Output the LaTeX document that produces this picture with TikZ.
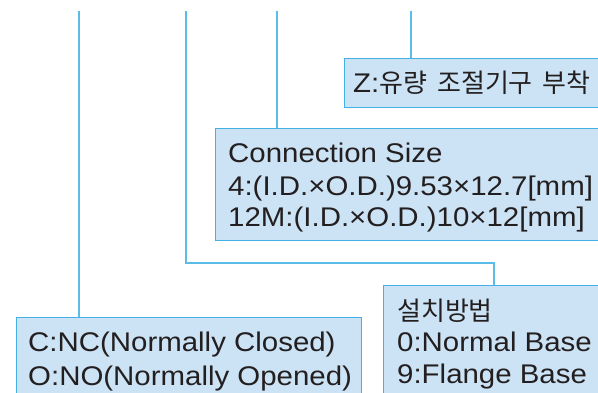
\documentclass[tikz,border=0pt]{standalone}
\usepackage{fontspec}
\setmainfont{Liberation Sans}
\newfontfamily\optfont{Liberation Sans}[FakeStretch=1.09]
\newfontfamily\hanfont{Noto Sans CJK KR}
\newcommand\hantext[1]{{\hanfont\fontsize{26}{32}\selectfont #1}}
\newcommand\hangap{\hspace{10pt}}
\definecolor{boxfill}{HTML}{CCE3F5}
\definecolor{boxline}{HTML}{45B0E5}
\definecolor{feedline}{HTML}{5BBCE8}
\definecolor{inkgray}{HTML}{231F20}
\tikzset{
  optbox/.style={draw=boxline, fill=boxfill, line width=1.3pt, anchor=north west, inner sep=0pt},
  feed/.style={draw=feedline, line width=1.3pt},
  opttext/.style={anchor=base west, inner sep=0pt, text=inkgray, font=\optfont\fontsize{27}{32}\selectfont}
}
\begin{document}
\begin{tikzpicture}[x=1pt, y=-1pt]

\useasboundingbox (0,0) rectangle (598,393);
\clip (0,0) rectangle (598,393);

% option boxes
\node[optbox, minimum width=280pt, minimum height=49pt] (zbox) at (344,58) {};
\node[optbox, minimum width=400pt, minimum height=112pt] (sizebox) at (215,128) {};
\node[optbox, minimum width=345pt, minimum height=90pt] (valvebox) at (16,317) {};
\node[optbox, minimum width=230pt, minimum height=120pt] (basebox) at (383,285) {};

% feed lines from the model code
\coordinate (t1) at (79,11);
\coordinate (t2) at (186,11);
\coordinate (t3) at (277,11);
\coordinate (t4) at (411,11);
\coordinate (turn) at (494,263);

\draw[feed] (t1) -- (t1 |- valvebox.north);
\draw[feed] (t2) |- (turn) -- (turn |- basebox.north);
\draw[feed] (t3) -- (t3 |- sizebox.north);
\draw[feed] (t4) -- (t4 |- zbox.north);

% texts
\node[opttext] (zline) at (353,93) {Z:\hantext{유량\hangap 조절기구\hangap 부착}};

\node[opttext] (sizehead) at (228,163) {Connection Size};
\node[opttext] (size4) at (228,196) {4:(I.D.×O.D.)9.53×12.7[mm]};
\node[opttext] (size12) at (228,227) {12M:(I.D.×O.D.)10×12[mm]};

\node[opttext] (valvec) at (28,352) {C:NC(Normally Closed)};
\node[opttext] (valveo) at (28,385) {O:NO(Normally Opened)};

\node[opttext] (basehead) at (397,320) {\hantext{설치방법}};
\node[opttext] (base0) at (397,352) {0:Normal Base};
\node[opttext] (base9) at (397,383) {9:Flange Base};

\end{tikzpicture}
\end{document}
